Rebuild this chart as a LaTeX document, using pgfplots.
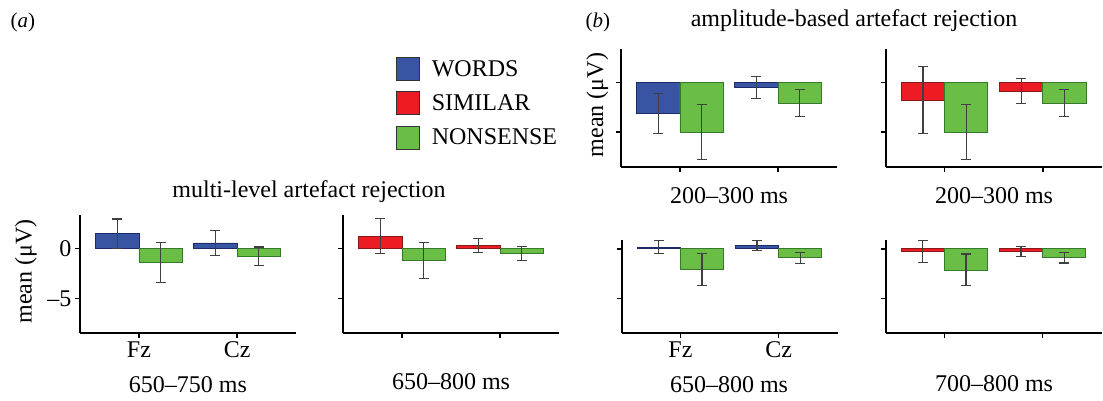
\documentclass[border=0pt]{standalone}
\usepackage{fontspec}
\setmainfont{Liberation Serif}
\usepackage{pgfplots}
\pgfplotsset{compat=1.18}

\definecolor{wfill}{HTML}{3A54A4}
\definecolor{wdraw}{HTML}{1E2A6A}
\definecolor{sfill}{HTML}{ED1C24}
\definecolor{sdraw}{HTML}{8A1A1A}
\definecolor{nfill}{HTML}{6ABD45}
\definecolor{ndraw}{HTML}{357A2A}
\newcommand\fs{\fontsize{24}{28}\selectfont}

\pgfplotsset{
  panel/.style={
    scale only axis, width=216pt, height=118pt,
    xmin=0.4, xmax=2.6, ymin=-8.5, ymax=3.4,
    axis lines=left, axis line style={line width=2pt, -},
    xtick={1,2}, xticklabels={}, ytick={-5,0}, yticklabels={},
    tick style={line width=1.5pt, black}, major tick length=5pt, tick align=outside,
    tick label style={font=\fs},
    ybar, bar width=0.44,
    error bars/y dir=both, error bars/y explicit,
    error bars/error bar style={line width=1.1pt, black!75},
    error bars/error mark options={rotate=90, line width=1.1pt, black!75, mark size=5pt},
  },
  short/.style={height=93pt, ymax=0.85},
  words/.style={fill=wfill, draw=wdraw, line width=0.8pt, bar shift=-0.22},
  similar/.style={fill=sfill, draw=sdraw, line width=0.8pt, bar shift=-0.22},
  nonsense/.style={fill=nfill, draw=ndraw, line width=0.8pt, bar shift=0.22},
}

\begin{document}
\begin{tikzpicture}[font=\fs]
\path[use as bounding box] (0,0) rectangle (1103pt,-400pt);

% (a) multi-level artefact rejection, 650-750 ms
\begin{axis}[panel, at={(80pt,-333pt)}, anchor=south west,
  xticklabels={Fz,Cz}, yticklabels={–5,0},
  legend style={at={(1.462,2.339)}, anchor=north west, draw=none, fill=none,
    inner sep=0pt, row sep=10.5pt, column sep=12pt, font=\fs,
    nodes={inner sep=0pt}},
  legend cell align=left,
  legend image code/.code={\draw[#1, bar shift=0pt] (0pt,-11.5pt) rectangle (23pt,11.5pt);}]
\addlegendimage{fill=wfill, draw=black!80, line width=0.8pt}
\addlegendimage{fill=sfill, draw=black!80, line width=0.8pt}
\addlegendimage{fill=nfill, draw=black!80, line width=0.8pt}
\legend{WORDS,SIMILAR,NONSENSE}
\addplot[words, forget plot] coordinates {(1,1.5) +- (0,1.5) (2,0.58) +- (0,1.3)};
\addplot[nonsense, forget plot] coordinates {(1,-1.4) +- (0,2.05) (2,-0.78) +- (0,0.95)};
\end{axis}

% (a) 650-800 ms
\begin{axis}[panel, at={(343pt,-333pt)}, anchor=south west]
\addplot[similar] coordinates {(1,1.26) +- (0,1.78) (2,0.34) +- (0,0.71)};
\addplot[nonsense] coordinates {(1,-1.19) +- (0,1.82) (2,-0.48) +- (0,0.68)};
\end{axis}

% (b) amplitude-based, 200-300 ms, words
\begin{axis}[panel, at={(621pt,-166.7pt)}, anchor=south west]
\addplot[words] coordinates {(1,-3.13) +- (0,2.0) (2,-0.5) +- (0,1.1)};
\addplot[nonsense] coordinates {(1,-5.0) +- (0,2.8) (2,-2.07) +- (0,1.38)};
\end{axis}

% (b) 200-300 ms, similar
\begin{axis}[panel, at={(885.7pt,-166.7pt)}, anchor=south west]
\addplot[similar] coordinates {(1,-1.8) +- (0,3.37) (2,-0.9) +- (0,1.25)};
\addplot[nonsense] coordinates {(1,-5.0) +- (0,2.8) (2,-2.07) +- (0,1.37)};
\end{axis}

% (b) 650-800 ms, words
\begin{axis}[panel, short, at={(621.5pt,-333.3pt)}, anchor=south west,
  xticklabels={Fz,Cz}]
\addplot[words] coordinates {(1,0.17) +- (0,0.67) (2,0.3) +- (0,0.5)};
\addplot[nonsense] coordinates {(1,-2.1) +- (0,1.6) (2,-0.91) +- (0,0.56)};
\end{axis}

% (b) 700-800 ms, similar
\begin{axis}[panel, short, at={(885.5pt,-333.3pt)}, anchor=south west]
\addplot[similar] coordinates {(1,-0.27) +- (0,1.15) (2,-0.27) +- (0,0.5)};
\addplot[nonsense] coordinates {(1,-2.13) +- (0,1.6) (2,-0.88) +- (0,0.55)};
\end{axis}

\node[anchor=base west, font=\fontsize{21}{24}\selectfont] at (7pt,-27pt) {(\textit{a})};
\node[anchor=base west, font=\fontsize{21}{24}\selectfont] at (582pt,-27pt) {(\textit{b})};
\node[anchor=base] at (854pt,-26pt) {amplitude-based artefact rejection};
\node[anchor=base] at (309pt,-197pt) {multi-level artefact rejection};
\node[rotate=90, anchor=base] at (31.5pt,-271.5pt) {mean (μV)};
\node[rotate=90, anchor=base] at (603pt,-105pt) {mean (μV)};
\node at (188pt,-385pt) {650–750 ms};
\node at (451pt,-382pt) {650–800 ms};
\node at (729pt,-196pt) {200–300 ms};
\node at (994pt,-196pt) {200–300 ms};
\node at (729pt,-385pt) {650–800 ms};
\node at (994pt,-384pt) {700–800 ms};
\end{tikzpicture}
\end{document}
